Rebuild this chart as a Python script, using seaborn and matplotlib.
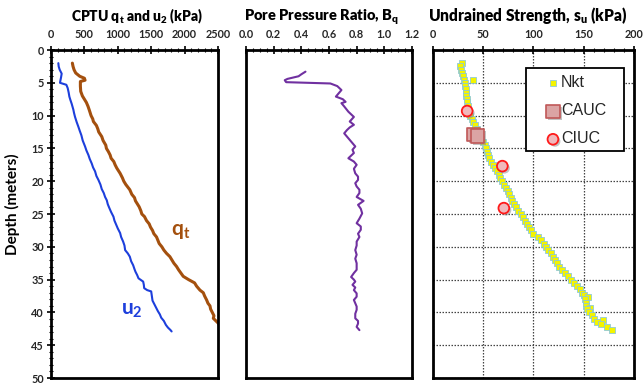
import matplotlib
matplotlib.use("Agg")
import matplotlib.pyplot as plt
import matplotlib.patheffects as pe
from matplotlib.patches import Rectangle
from matplotlib.ticker import MultipleLocator
import seaborn as sns
import pandas as pd

# ---------------- CPTU profiles ----------------
qt_depth = [2.0, 2.5, 3.0, 3.5, 4.0, 4.3, 4.6, 4.8, 5.5, 6.3, 7.0, 7.5, 8.0, 8.6, 9.2,
            10.0, 10.5, 10.9, 11.5, 12.0, 12.5, 13.2, 13.8, 14.5, 15.0, 15.5, 16.0, 16.5,
            17.0, 17.5, 18.0, 18.8, 19.5, 20.0, 20.5, 21.3, 22.0, 22.5, 23.0, 23.9, 24.5,
            25.0, 25.4, 26.0, 26.5, 27.0, 27.5, 28.0, 28.5, 29.0, 29.5, 30.0, 30.5, 31.0,
            31.5, 32.0, 32.5, 33.0, 33.5, 34.0, 34.5, 35.0, 35.5, 36.0, 36.6, 37.0, 37.5,
            38.1, 38.6, 39.0, 39.5, 40.1, 40.5, 40.9, 41.3, 41.6, 41.9, 42.2]
qt_kpa = [320, 330, 345, 370, 430, 500, 510, 440, 440, 445, 470, 500, 530, 555, 575,
          600, 625, 635, 680, 700, 715, 760, 780, 820, 830, 860, 885, 900,
          940, 960, 985, 1035, 1070, 1090, 1120, 1180, 1210, 1250, 1265, 1320, 1345,
          1360, 1400, 1430, 1470, 1490, 1520, 1540, 1580, 1600, 1620, 1660, 1690, 1730,
          1780, 1810, 1840, 1880, 1910, 1945, 1980, 2060, 2150, 2180, 2230, 2280, 2300,
          2330, 2350, 2380, 2390, 2420, 2440, 2430, 2470, 2500, 2520, 2540]

u2_depth = [2.0, 2.5, 3.0, 3.6, 4.2, 4.7, 5.0, 5.3, 5.8, 6.5, 7.1, 7.6, 8.2, 9.1, 9.6,
            10.2, 11.0, 11.7, 12.3, 13.0, 13.8, 14.7, 15.3, 16.0, 16.6, 17.3, 17.9, 18.5,
            19.2, 19.8, 20.5, 21.2, 21.8, 22.4, 22.9, 23.5, 24.0, 24.7, 25.4, 26.0, 26.6,
            27.2, 27.9, 28.5, 29.2, 29.8, 30.5, 31.0, 31.5, 32.2, 32.8, 33.4, 33.8, 34.3,
            34.8, 35.3, 35.8, 36.3, 36.6, 36.8, 37.5, 38.2, 38.6, 39.2, 39.8, 40.3, 40.8,
            41.3, 41.9, 42.3, 42.7, 42.9]
u2_kpa = [110, 115, 130, 160, 150, 140, 135, 230, 250, 265, 275, 290, 310, 335, 345,
          360, 385, 410, 430, 455, 475, 510, 530, 560, 580, 610, 630, 660,
          680, 710, 740, 760, 790, 810, 835, 850, 870, 900, 935, 950, 975,
          1000, 1035, 1050, 1080, 1100, 1110, 1150, 1180, 1200, 1230, 1250, 1265, 1290,
          1310, 1380, 1390, 1395, 1440, 1500, 1510, 1520, 1540, 1570, 1600, 1630, 1650,
          1690, 1720, 1750, 1790, 1806]

# ---------------- Pore pressure ratio ----------------
bq_depth = [3.3, 3.7, 4.0, 4.4, 4.6, 4.9, 5.0, 5.1, 5.5, 6.1, 6.6, 7.1, 7.5, 7.9, 8.1,
            8.6, 9.4, 10.2, 10.9, 11.4, 11.8, 12.2, 12.7, 13.2, 13.7, 14.2, 14.7, 15.2,
            15.7, 16.1, 16.5, 17.0, 17.5, 18.1, 18.8, 19.3, 19.8, 20.3, 20.8, 21.3, 21.8,
            22.4, 23.0, 23.6, 24.2, 24.9, 25.7, 26.4, 26.9, 27.4, 28.0, 28.5, 29.2, 29.8,
            30.5, 31.2, 31.8, 32.5, 33.1, 33.5, 34.0, 34.6, 35.0, 35.3, 35.8, 36.2, 36.6,
            37.1, 37.6, 38.1, 38.6, 39.1, 39.6, 40.2, 40.9, 41.3, 41.7, 42.2, 42.7]
bq_ratio = [0.43, 0.40, 0.38, 0.30, 0.28, 0.29, 0.45, 0.61, 0.66, 0.69, 0.67, 0.65, 0.70,
            0.72, 0.69, 0.71, 0.74, 0.78, 0.75, 0.78, 0.75, 0.73, 0.71, 0.73, 0.75, 0.77,
            0.79, 0.77, 0.78, 0.76, 0.74, 0.78, 0.80, 0.78, 0.79, 0.81, 0.81, 0.79, 0.80,
            0.82, 0.82, 0.80, 0.85, 0.81, 0.83, 0.84, 0.82, 0.80, 0.83, 0.83, 0.81, 0.82,
            0.80, 0.80, 0.79, 0.80, 0.79, 0.80, 0.80, 0.80, 0.78, 0.76, 0.78, 0.79, 0.77,
            0.79, 0.78, 0.80, 0.80, 0.78, 0.79, 0.80, 0.80, 0.79, 0.79, 0.81, 0.81, 0.80,
            0.82]

# ---------------- Undrained strength ----------------
nkt_depth = [2.0, 2.5, 3.0, 3.5, 4.0, 4.5, 4.5, 5.0, 5.5, 6.0, 6.5, 7.0, 7.5, 8.0, 8.5,
             9.0, 9.5, 10.0, 10.5, 11.0, 11.5, 12.0, 12.5, 13.0, 13.5, 14.0, 14.5, 15.0,
             15.5, 16.0, 16.5, 17.0, 17.5, 18.0, 18.5, 19.0, 19.5, 20.0, 20.5, 21.0, 21.5,
             22.0, 22.5, 23.0, 23.5, 24.0, 24.5, 25.0, 25.5, 26.0, 26.5, 27.0, 27.5, 28.0,
             28.5, 29.0, 29.5, 30.0, 30.5, 31.0, 31.5, 32.0, 32.5, 33.0, 33.5, 34.0, 34.5,
             35.0, 35.5, 36.0, 36.5, 37.0, 37.3, 37.7, 38.0, 38.5, 39.0, 39.3, 39.5, 40.0,
             40.4, 41.0, 41.2, 41.4, 41.8, 42.2, 42.7]
nkt_su = [29, 27, 28, 29, 30, 31, 39.5, 32, 32, 32.5, 33, 33, 33.5, 34, 35,
          35, 36, 37, 38.5, 40, 42, 44, 45, 47, 48, 50, 52, 53,
          54, 55, 56, 58, 60, 62, 64, 66, 67, 69, 71, 73, 75,
          76, 78, 79, 81, 83, 85, 88, 90, 92, 94, 96, 98, 100,
          104, 107, 110, 112, 114, 117, 119, 121, 123, 125, 128, 131, 134,
          137, 140, 143, 146, 148, 150, 154, 151, 152, 152, 156, 153, 155,
          158, 160, 169, 163, 167, 173, 178]

cauc_depth = [12.9, 13.1]
cauc_su = [40, 44]

ciuc_depth = [9.3, 17.7, 24.1]
ciuc_su = [34, 69, 70.5]

# ---------------- styling ----------------
sns.set_theme(style="white")
plt.rcParams["font.family"] = ["Lato", "DejaVu Sans"]
plt.rcParams["mathtext.default"] = "regular"

QT_COLOR = "#a4500e"
U2_COLOR = "#1d3fdc"
BQ_COLOR = "#7030a0"

W, H = 643, 383
fig = plt.figure(figsize=(W / 100, H / 100), dpi=100)
fig.patch.set_facecolor("white")

bottom, height = 0.013, 0.8564
ax1 = fig.add_axes([0.0793, bottom, 0.2597, height])
ax2 = fig.add_axes([0.3826, bottom, 0.2581, height])
ax3 = fig.add_axes([0.6734, bottom, 0.3126, height])

df_qt = pd.DataFrame({"depth": qt_depth, "value": qt_kpa})
df_u2 = pd.DataFrame({"depth": u2_depth, "value": u2_kpa})
df_bq = pd.DataFrame({"depth": bq_depth, "value": bq_ratio})
df_nkt = pd.DataFrame({"depth": nkt_depth, "su": nkt_su})
df_cauc = pd.DataFrame({"depth": cauc_depth, "su": cauc_su})
df_ciuc = pd.DataFrame({"depth": ciuc_depth, "su": ciuc_su})

sns.lineplot(data=df_qt, x="value", y="depth", sort=False, estimator=None,
             color=QT_COLOR, lw=2.2, ax=ax1)
sns.lineplot(data=df_u2, x="value", y="depth", sort=False, estimator=None,
             color=U2_COLOR, lw=1.5, ax=ax1)
sns.lineplot(data=df_bq, x="value", y="depth", sort=False, estimator=None,
             color=BQ_COLOR, lw=1.5, ax=ax2)

shadow = [pe.SimplePatchShadow(offset=(1.5, -1.5), shadow_rgbFace="#888888", alpha=0.5),
          pe.Normal()]
sns.scatterplot(data=df_nkt, x="su", y="depth", marker="s", s=22,
                color="#f4f400", edgecolor="#86c6e2", linewidth=0.55,
                ax=ax3, label="Nkt", zorder=3)
sns.scatterplot(data=df_cauc, x="su", y="depth", marker="s", s=90,
                color="#dba4a4", edgecolor="#c05858", linewidth=1.2,
                ax=ax3, label="CAUC", zorder=4)
sns.scatterplot(data=df_ciuc, x="su", y="depth", marker="o", s=60,
                color="#f0b8bc", edgecolor="#ff1a1a", linewidth=1.3,
                ax=ax3, label="CIUC", zorder=4)
for coll in ax3.collections[1:]:
    coll.set_path_effects(shadow)

# curve labels
ax1.text(1790, 28.2, "q$_t$", color=QT_COLOR, fontsize=15, fontweight="bold")
ax1.text(1050, 40.3, "u$_2$", color=U2_COLOR, fontsize=15, fontweight="bold")

# panel titles (centre x in pixels, size)
titles = [("CPTU q$_t$ and u$_2$ (kPa)", 137, 10.0),
          ("Pore Pressure Ratio, B$_q$", 321.5, 10.5),
          ("Undrained Strength, s$_u$ (kPa)", 527.5, 11.2)]
for txt, cx, size in titles:
    fig.text(cx / W, 1 - 21 / H, txt, ha="center", va="baseline",
             fontsize=size, fontweight="heavy", color="black")

xlims = [(0, 2500), (0, 1.2), (0, 200)]
majors = [500, 0.2, 50]
minors = [100, 0.05, 10]
fmt = ["{:.0f}", "{:.1f}", "{:.0f}"]

for ax, xl, mj, mn, f in zip([ax1, ax2, ax3], xlims, majors, minors, fmt):
    ax.set_xlim(*xl)
    ax.set_ylim(50, 0)
    ax.xaxis.tick_top()
    ax.xaxis.set_minor_locator(MultipleLocator(mn))
    ticks = [mj * i for i in range(int(round(xl[1] / mj)) + 1)]
    ax.set_xticks(ticks)
    ax.set_xticklabels([f.format(t) for t in ticks])
    ax.tick_params(axis="x", which="major", direction="inout", length=6, width=1.2,
                   labelsize=7.8, pad=4.5, top=True, bottom=False, color="black")
    ax.tick_params(axis="x", which="minor", direction="inout", length=3, width=0.8,
                   top=True, bottom=False, color="black")
    for lbl in ax.get_xticklabels():
        lbl.set_fontweight("bold")
    for sp in ax.spines.values():
        sp.set_visible(True)
        sp.set_color("black")
        sp.set_linewidth(2.0)
    ax.set_xlabel("")
    ax.set_ylabel("")

# depth axis on first panel
ax1.yaxis.set_major_locator(MultipleLocator(5))
ax1.yaxis.set_minor_locator(MultipleLocator(1))
ax1.tick_params(axis="y", which="major", direction="inout", length=6, width=1.2,
                labelsize=7.8, pad=2, left=True, color="black")
ax1.tick_params(axis="y", which="minor", direction="inout", length=3, width=0.8,
                left=True, color="black")
for lbl in ax1.get_yticklabels():
    lbl.set_fontweight("bold")
fig.text(12 / W, 1 - 204 / H, "Depth (meters)", rotation=90, ha="center", va="center",
         fontsize=11, fontweight="bold", color="black")

for ax in (ax2, ax3):
    ax.yaxis.set_major_locator(MultipleLocator(5))
    ax.tick_params(axis="y", which="both", left=False, labelleft=False)

# grid on strength panel
ax3.grid(True, which="major", color="#444444", linestyle=(0, (1.2, 1.2)), linewidth=0.9)
ax3.set_axisbelow(True)

# legend box with its own frame
box = Rectangle((0.4627, 0.692), 0.950 - 0.4627, 0.945 - 0.692, transform=ax3.transAxes,
                facecolor="white", edgecolor="black", linewidth=1.3, zorder=5)
ax3.add_patch(box)
leg = ax3.legend(loc="upper left", bbox_to_anchor=(0.557, 0.923), frameon=False,
                 prop={"family": "Liberation Sans", "size": 11.5},
                 handletextpad=0.0, labelspacing=0.82, borderpad=0.0,
                 handlelength=1.0, borderaxespad=0)
leg.set_zorder(6)

fig.savefig("out.png", dpi=100, facecolor="white")
